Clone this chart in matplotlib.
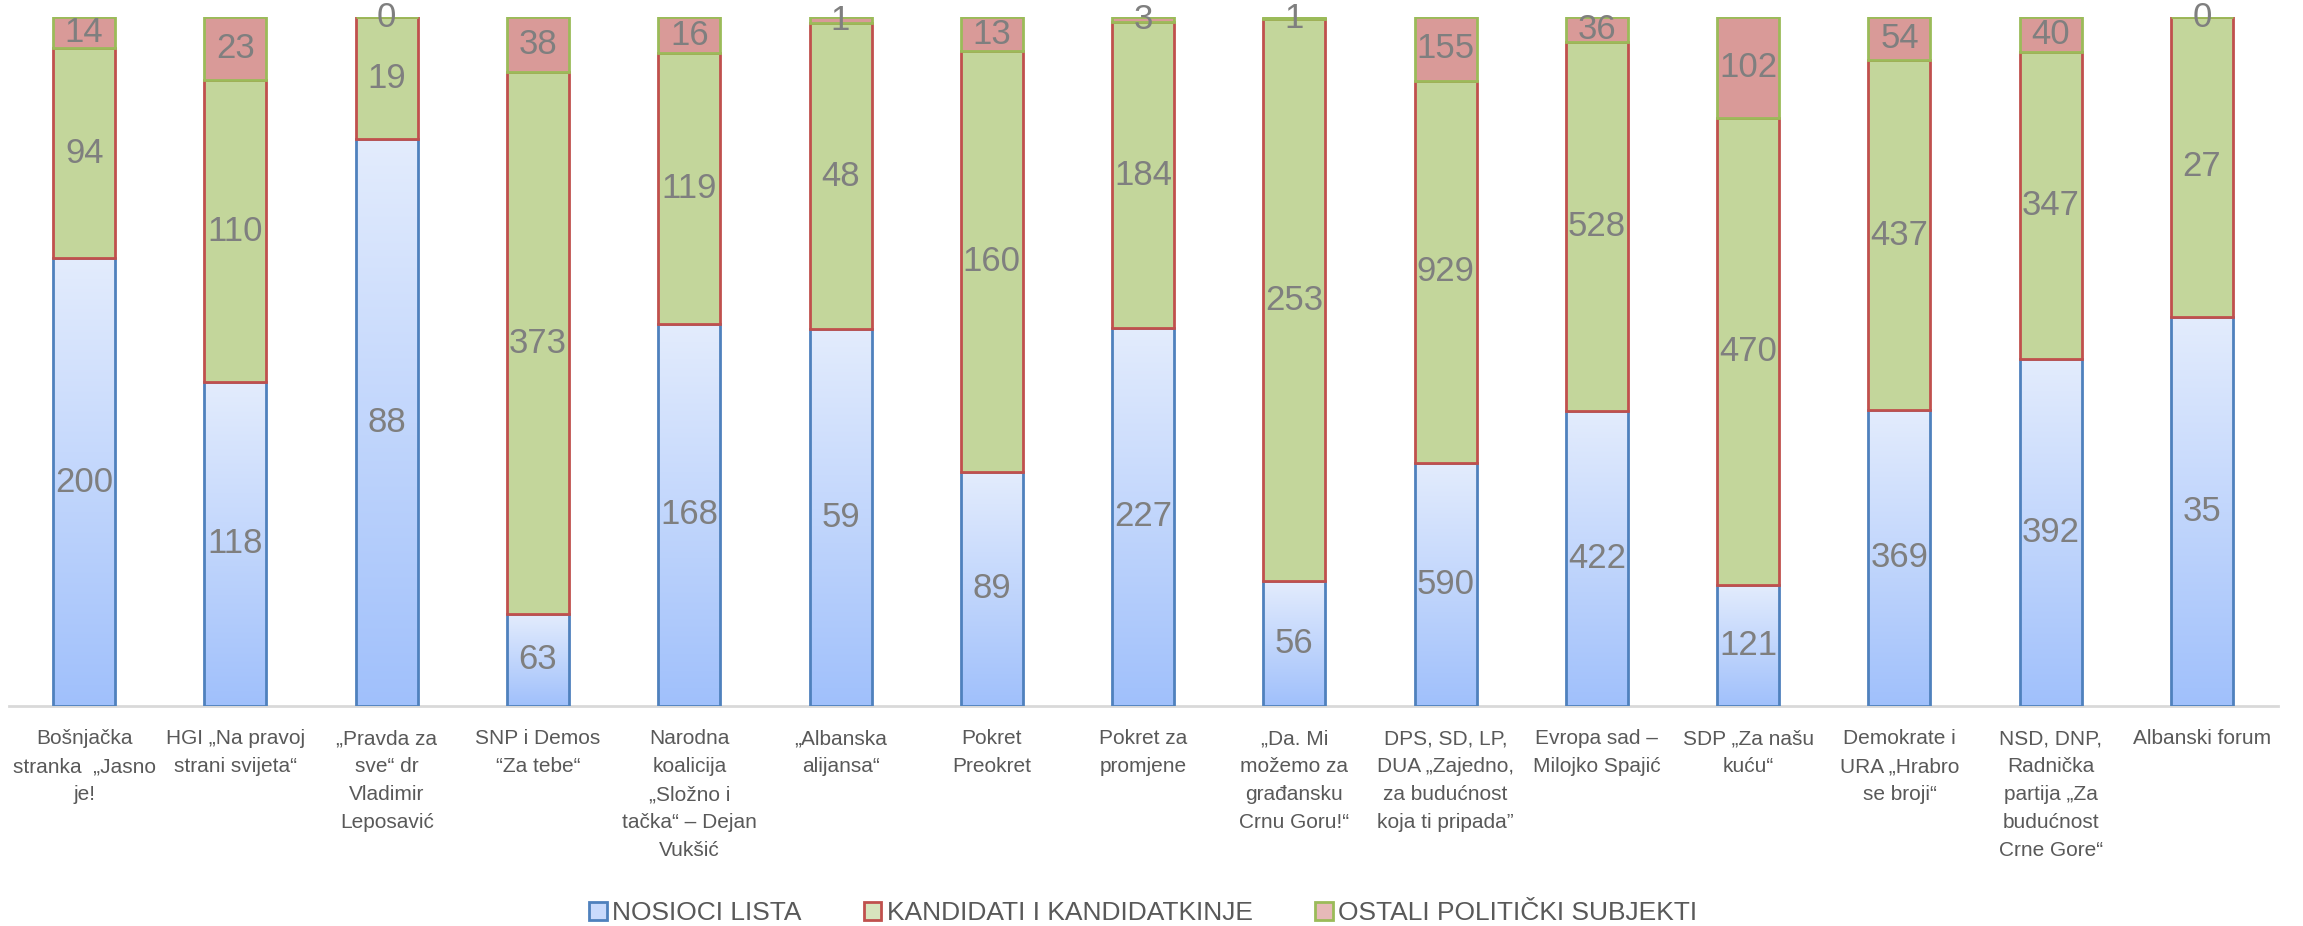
import numpy as np
import matplotlib
matplotlib.use("Agg")
import matplotlib.pyplot as plt
import matplotlib.patches as mpatches
from matplotlib.colors import LinearSegmentedColormap

plt.rcParams['font.family'] = ['Liberation Sans', 'DejaVu Sans']

categories = [
    "Bošnjačka\nstranka  „Jasno\nje!",
    "HGI „Na pravoj\nstrani svijeta“",
    "„Pravda za\nsve“ dr\nVladimir\nLeposavić",
    "SNP i Demos\n“Za tebe“",
    "Narodna\nkoalicija\n„Složno i\ntačka“ – Dejan\nVukšić",
    "„Albanska\nalijansa“",
    "Pokret\nPreokret",
    "Pokret za\npromjene",
    "„Da. Mi\nmožemo za\ngrađansku\nCrnu Goru!“",
    "DPS, SD, LP,\nDUA „Zajedno,\nza budućnost\nkoja ti pripada”",
    "Evropa sad –\nMilojko Spajić",
    "SDP „Za našu\nkuću“",
    "Demokrate i\nURA „Hrabro\nse broji“",
    "NSD, DNP,\nRadnička\npartija „Za\nbudućnost\nCrne Gore“",
    "Albanski forum",
]
nosioci = [200, 118, 88, 63, 168, 59, 89, 227, 56, 590, 422, 121, 369, 392, 35]
kandidati = [94, 110, 19, 373, 119, 48, 160, 184, 253, 929, 528, 470, 437, 347, 27]
ostali = [14, 23, 0, 38, 16, 1, 13, 3, 1, 155, 36, 102, 54, 40, 0]
series_names = ["NOSIOCI LISTA", "KANDIDATI I KANDIDATKINJE", "OSTALI POLITIČKI SUBJEKTI"]

blue_edge = "#4f81bd"
green_fill = "#c3d69b"
red_edge = "#c0504d"
pink_fill = "#d99a98"
green_edge = "#9bbb59"
label_color = "#7f7f7f"
tick_color = "#595959"

fig = plt.figure(figsize=(23.03, 9.26), dpi=100)
ax = fig.add_axes([0.0037, 0.238, 0.9853, 0.7436])

n = np.array(nosioci, float)
k = np.array(kandidati, float)
o = np.array(ostali, float)
tot = n + k + o
pn, pk, po = n / tot, k / tot, o / tot
x = np.arange(len(categories))
w = 0.41

# blue segments get a vertical gradient like the original
grad = LinearSegmentedColormap.from_list("bl", ["#a0c0fb", "#e3ecfd"])
gimg = np.linspace(0, 1, 256).reshape(-1, 1)

bars_n = ax.bar(x, pn, w, facecolor="none", edgecolor=blue_edge, linewidth=2, zorder=3)
for b in bars_n:
    x0, y0 = b.get_x(), b.get_y()
    im = ax.imshow(gimg, cmap=grad, aspect="auto", origin="lower",
                   extent=(x0, x0 + b.get_width(), y0, y0 + b.get_height()), zorder=2)
    im.set_clip_path(b)
ax.bar(x, pk, w, bottom=pn, facecolor=green_fill, edgecolor=red_edge, linewidth=2, zorder=3)
ax.bar(x, po, w, bottom=pn + pk, facecolor=pink_fill, edgecolor=green_edge, linewidth=2, zorder=3)

for i in range(len(categories)):
    for val, bot, h in [(nosioci[i], 0, pn[i]), (kandidati[i], pn[i], pk[i]), (ostali[i], pn[i] + pk[i], po[i])]:
        ax.text(x[i], bot + h / 2, str(val), ha="center", va="center", fontsize=25,
                color=label_color, zorder=5, clip_on=False)

ax.set_xlim(-0.5, len(categories) - 0.5)
ax.set_ylim(0, 1)
ax.set_xticks(x)
ax.set_xticklabels(categories, fontsize=15, color=tick_color, linespacing=1.6, va="top")
ax.tick_params(axis="x", length=0, pad=17)
ax.set_yticks([])
for s in ["top", "left", "right"]:
    ax.spines[s].set_visible(False)
ax.spines["bottom"].set_color("#d9d9d9")
ax.spines["bottom"].set_linewidth(2)
ax.spines["bottom"].set_zorder(1)

handles = [
    mpatches.Patch(facecolor="#c9dafc", edgecolor=blue_edge, linewidth=2, label=series_names[0]),
    mpatches.Patch(facecolor="#d7e4bd", edgecolor=red_edge, linewidth=2, label=series_names[1]),
    mpatches.Patch(facecolor="#e6b9b8", edgecolor=green_edge, linewidth=2, label=series_names[2]),
]
leg = fig.legend(handles=handles, loc="center", bbox_to_anchor=(0.4963, 0.014), ncol=3, frameon=False,
                 fontsize=19, handlelength=0.68, handleheight=0.68, handletextpad=0.2, columnspacing=2.35,
                 borderpad=0)
for t in leg.get_texts():
    t.set_color(tick_color)

fig.savefig("out.png", dpi=100)
